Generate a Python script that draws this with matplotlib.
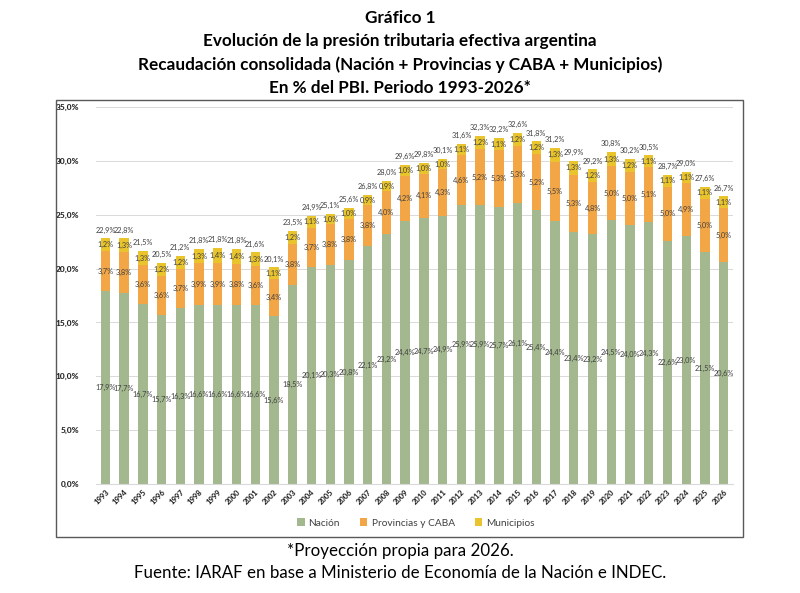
import matplotlib
matplotlib.use("Agg")
import matplotlib.pyplot as plt
import numpy as np
from matplotlib.patches import Rectangle

# -------------------------------
# Data (% del PBI)
# -------------------------------
years = [str(y) for y in range(1993, 2027)]
nacion = [17.9, 17.7, 16.7, 15.7, 16.3, 16.6, 16.6, 16.6, 16.6, 15.6, 18.5, 20.1,
          20.3, 20.8, 22.1, 23.2, 24.4, 24.7, 24.9, 25.9, 25.9, 25.7, 26.1, 25.4,
          24.4, 23.4, 23.2, 24.5, 24.0, 24.3, 22.6, 23.0, 21.5, 20.6]
provincias = [3.7, 3.8, 3.6, 3.6, 3.7, 3.9, 3.9, 3.8, 3.6, 3.4, 3.8, 3.7,
              3.8, 3.8, 3.8, 4.0, 4.2, 4.1, 4.3, 4.6, 5.2, 5.3, 5.3, 5.2,
              5.5, 5.3, 4.8, 5.0, 5.0, 5.1, 5.0, 4.9, 5.0, 5.0]
municipios = [1.2, 1.3, 1.3, 1.2, 1.2, 1.3, 1.4, 1.4, 1.3, 1.1, 1.2, 1.1,
              1.0, 1.0, 0.9, 0.9, 1.0, 1.0, 1.0, 1.1, 1.2, 1.1, 1.2, 1.2,
              1.3, 1.3, 1.2, 1.3, 1.2, 1.1, 1.1, 1.1, 1.1, 1.1]
totales = [22.9, 22.8, 21.5, 20.5, 21.2, 21.8, 21.8, 21.8, 21.6, 20.1, 23.5, 24.9,
           25.1, 25.6, 26.8, 28.0, 29.6, 29.8, 30.1, 31.6, 32.3, 32.2, 32.6, 31.8,
           31.2, 29.9, 29.2, 30.8, 30.2, 30.5, 28.7, 29.0, 27.6, 26.7]

plt.rcParams['font.family'] = ['Lato', 'DejaVu Sans']

c_nac = "#A3B88E"
c_prov = "#F2A646"
c_mun = "#E9C42C"
txt = "#404040"

def pct(v):
    return f"{v:.1f}%".replace(".", ",")

fig = plt.figure(figsize=(8, 5.93), dpi=100)
ax = fig.add_axes([0.12, 0.1838, 0.7963, 0.6358])

x = np.arange(len(years))
w = 0.5
nac = np.array(nacion)
prov = np.array(provincias)
mun = np.array(municipios)

ax.bar(x, nac, w, color=c_nac, label="Nación", zorder=2)
ax.bar(x, prov, w, bottom=nac, color=c_prov, label="Provincias y CABA", zorder=2)
ax.bar(x, mun, w, bottom=nac + prov, color=c_mun, label="Municipios", zorder=2)

# data labels (centered in each segment, total above the bar)
fs = 5.3
for i in range(len(years)):
    ax.text(x[i], nac[i] / 2, pct(nac[i]), ha="center", va="center", fontsize=fs, color=txt, zorder=3)
    ax.text(x[i], nac[i] + prov[i] / 2, pct(prov[i]), ha="center", va="center", fontsize=fs, color=txt, zorder=3)
    ax.text(x[i], nac[i] + prov[i] + mun[i] / 2, pct(mun[i]), ha="center", va="center", fontsize=fs, color=txt, zorder=3)
    ax.text(x[i], nac[i] + prov[i] + mun[i] + 0.45, pct(totales[i]), ha="center", va="bottom", fontsize=fs, color=txt, zorder=3)

ax.set_xlim(-0.5, len(years) - 0.5)
ax.set_ylim(0, 35)
ax.set_yticks(np.arange(0, 36, 5))
ax.set_yticklabels([pct(v) for v in np.arange(0, 36, 5)], fontsize=6, fontweight="black", color="#262626")
ax.set_xticks(x)
ax.set_xticklabels(years, rotation=45, ha="right", rotation_mode="anchor", fontsize=5.5,
                   fontweight="black", color="#262626")
ax.tick_params(axis="both", length=0, pad=3)
ax.tick_params(axis="y", pad=12)
ax.grid(axis="y", color="#D9D9D9", linewidth=0.7, zorder=0)
for s in ["top", "right", "left"]:
    ax.spines[s].set_visible(False)
ax.spines["bottom"].set_color("#D9D9D9")

leg = fig.legend(loc="center", bbox_to_anchor=(0.52, 0.118), ncol=3, frameon=False,
                 fontsize=7.3, handlelength=0.7, handleheight=0.7, columnspacing=2.0, handletextpad=0.4)
for t in leg.get_texts():
    t.set_color(txt)

# chart frame
fig.patches.append(Rectangle((0.07, 0.0944), 0.859, 0.737, transform=fig.transFigure,
                             fill=False, edgecolor="#595959", linewidth=1.0))

titles = ["Gráfico 1",
          "Evolución de la presión tributaria efectiva argentina",
          "Recaudación consolidada (Nación + Provincias y CABA + Municipios)",
          "En % del PBI. Periodo 1993-2026*"]
for k, t in enumerate(titles):
    fig.text(0.5, 1 - (18 + 23.3 * k) / 593, t, ha="center", va="center", fontsize=12.3, fontweight="bold")

fig.text(0.5, 1 - 551 / 593, "*Proyección propia para 2026.", ha="center", va="center", fontsize=12.2)
fig.text(0.5, 1 - 573 / 593, "Fuente: IARAF en base a Ministerio de Economía de la Nación e INDEC.",
         ha="center", va="center", fontsize=12.2)

fig.savefig("out.png", dpi=100)
